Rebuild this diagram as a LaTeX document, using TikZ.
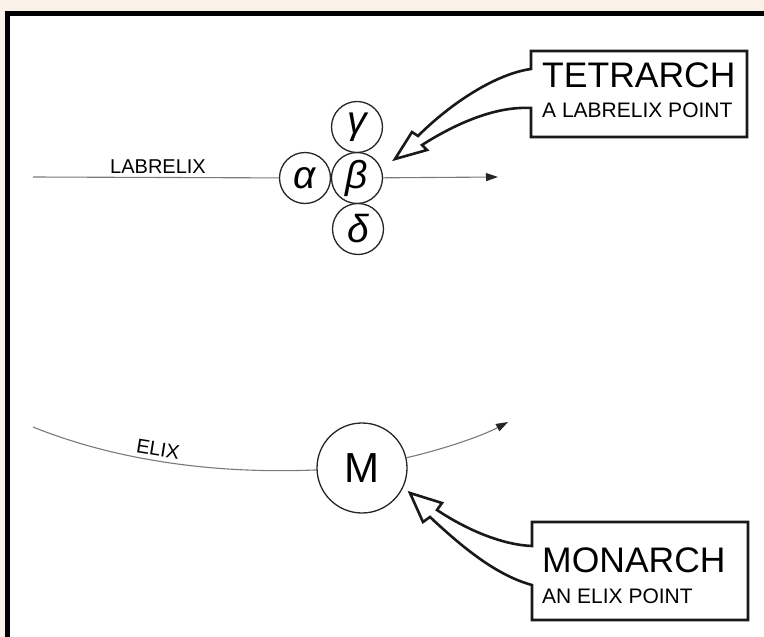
\documentclass[tikz,border=0pt]{standalone}
\usepackage{fontspec}
\setmainfont{Liberation Sans}
\usetikzlibrary{arrows.meta}
\definecolor{bgbeige}{HTML}{FAF2E8}
\definecolor{linegray}{HTML}{7A7A7A}
\begin{document}
\begin{tikzpicture}[x=1pt,y=-1pt,
  greekcirc/.style={circle,draw=black!85,line width=1.3pt,minimum size=51pt,inner sep=0pt,fill=white,font=\fontsize{39}{39}\selectfont\itshape},
  thinline/.style={draw=linegray,line width=1.1pt},
  tiparrow/.style={-{Triangle[length=12pt,width=8pt,color=black!85,fill=black!85]}},
  callout/.style={draw=black!90,line width=2.6pt,fill=white,line join=miter},
  bigtxt/.style={font=\fontsize{35.5}{36}\selectfont,inner sep=0pt,anchor=base west},
  smalltxt/.style={font=\fontsize{21}{21}\selectfont,inner sep=0pt,anchor=base west},
  labeltxt/.style={font=\fontsize{20}{20}\selectfont,inner sep=0pt},
]
\useasboundingbox (0,0) rectangle (764,637);
\fill[bgbeige] (0,0) rectangle (764,637);
\fill[white] (10,16) rectangle (780,660);
\draw[line width=5pt] (7.5,660) |- (780,13.5);

% tetrarch circles
\node[greekcirc] (alpha) at (305,178) {α};
\node[greekcirc] (beta) at (357,178) {β};
\node[greekcirc] (gamma) at (357,127) {γ};
\node[greekcirc] (delta) at (358,229) {δ};

% labrelix line
\coordinate (labstart) at (33,177);
\coordinate (labend) at (498,177);
\draw[thinline] (labstart) -- (alpha);
\draw[thinline,tiparrow] (beta) -- (labend);
\node[labeltxt,anchor=base west] (lablabel) at (110,173) {LABRELIX};

% monarch
\node[circle,draw=black!85,line width=1.3pt,minimum size=90pt,inner sep=0pt,font=\fontsize{42}{42}\selectfont] (mon) at (362,468) {M};
\coordinate (elixstart) at (33,427);
\coordinate (elixend) at (508,422);
\draw[thinline] (elixstart) .. controls (120,462) and (220,474) .. (mon);
\draw[thinline,tiparrow] (mon) .. controls (440,450) and (480,437) .. (elixend);
\node[labeltxt,rotate=-9] (elixlabel) at (158,449) {ELIX};

% tetrarch callout
\draw[callout] (531,108) -- (531,137) -- (747,137) -- (747,51) -- (531,51) -- (531,69)
  .. controls (495,74) and (450,104) .. (418,136) -- (412,132) -- (395,159) -- (427,150) -- (422,145)
  .. controls (455,124) and (495,106) .. cycle;
\node[bigtxt] (tet) at (542,87) {TETRARCH};
\node[smalltxt] (tetsub) at (542,117) {A LABRELIX POINT};

% monarch callout
\draw[callout] (532,585) -- (532,620) -- (748,620) -- (748,522) -- (532,522) -- (532,546)
  .. controls (505,545) and (470,532) .. (437,510) -- (442,503) -- (410,493) -- (423,522) -- (430,517)
  .. controls (460,545) and (495,575) .. cycle;
\node[bigtxt] (monk) at (542,572) {MONARCH};
\node[smalltxt] (monsub) at (542,603) {AN ELIX POINT};
\end{tikzpicture}
\end{document}
